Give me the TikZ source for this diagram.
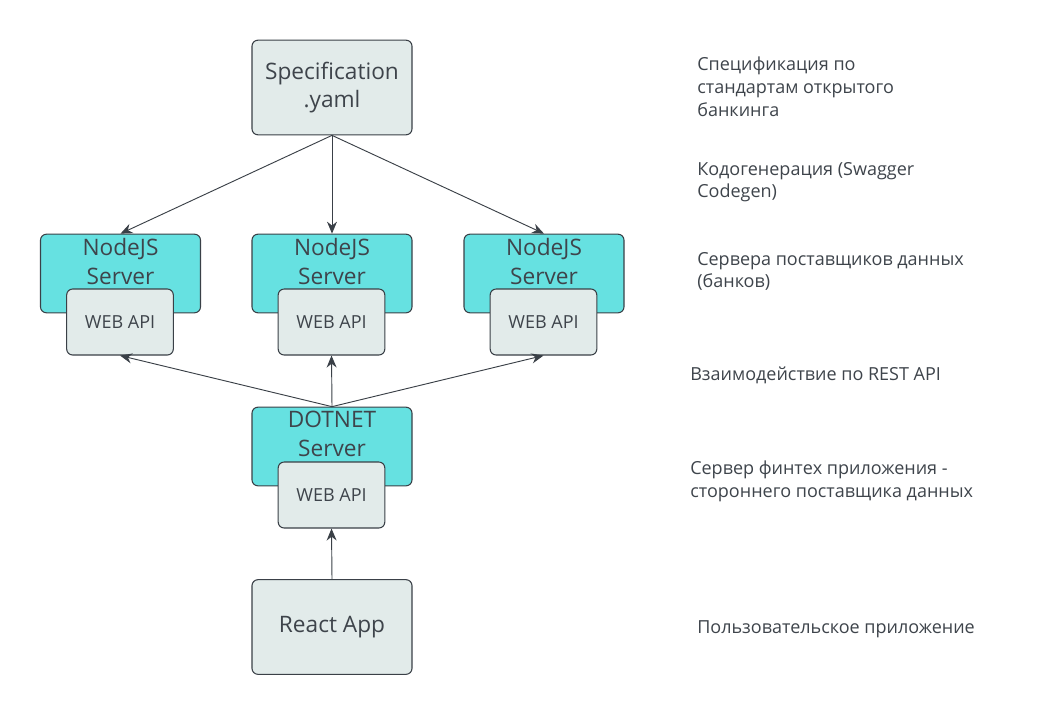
\documentclass[tikz,border=0pt]{standalone}
\usepackage{fontspec}
\setmainfont{Open Sans}
\usetikzlibrary{arrows.meta}
\definecolor{boxgray}{HTML}{E2EBEA}
\definecolor{srvcyan}{HTML}{66E1E1}
\definecolor{edgegray}{HTML}{3A4047}
\definecolor{txtgray}{HTML}{3E444B}
\pgfkeys{tikz/block/.style={draw=edgegray, 
                                fill=boxgray, 
                                rounded corners=4.5pt, 
                                line width=0.8pt, 
                                text=txtgray, 
                                align=center, 
                                font=\fontsize{17}{21}\selectfont}}
\pgfkeys{tikz/server/.style={block, fill=srvcyan, 
                                 minimum width=120pt, 
                                 minimum height=59pt}}
\pgfkeys{tikz/srvtext/.style={block, draw=none, fill=none, 
                                  anchor=north, inner sep=3.2pt, 
                                  font=\fontsize{17}{21.5}\selectfont}}
\pgfkeys{tikz/webapi/.style={block, 
                                 minimum width=80pt, 
                                 minimum height=49.5pt, 
                                 font=\fontsize{13.5}{16}\selectfont}}
\pgfkeys{tikz/note/.style={anchor=north west, 
                               align=left, 
                               inner sep=0pt, 
                               text=txtgray, 
                               font=\fontsize{13.5}{17}\selectfont}}
\pgfkeys{tikz/link/.style={draw=edgegray, line width=0.7pt, 
                               -{Stealth[length=9pt, width=7.5pt]}}}

\begin{document}
\begin{tikzpicture}[x=0.75pt, y=-0.75pt]
                \useasboundingbox (0,0) rectangle (1052,726);

                \node[block, minimum width=120pt, minimum height=71pt] (spec) at (332, 87.5) {Specification\\.yaml};

                \node[server] (s1) at (120.5, 273.5) {};
                \node[server] (s2) at (332, 273.5) {};
                \node[server] (s3) at (544, 273.5) {};
                \node[srvtext] (s1t) at (s1.north) {NodeJS\\Server};
                \node[srvtext] (s2t) at (s2.north) {NodeJS\\Server};
                \node[srvtext] (s3t) at (s3.north) {NodeJS\\Server};

                \node[webapi] (a1) at (120, 322) {WEB API};
                \node[webapi] (a2) at (331.5, 322) {WEB API};
                \node[webapi] (a3) at (543.5, 322) {WEB API};

                \draw[link] (spec.south) -- (s1.north);
                \draw[link] (spec.south) -- (s2.north);
                \draw[link] (spec.south) -- (s3.north);

                \node[server] (dn) at (332, 446.5) {};
                \node[srvtext] (dnt) at (dn.north) {DOTNET\\Server};
                \node[webapi] (a4) at (331.5, 495) {WEB API};

                \draw[link] (dn.north) -- (a1.south);
                \draw[link] (dn.north) -- (a2.south);
                \draw[link] (dn.north) -- (a3.south);

                \node[block, minimum width=120pt, minimum height=71pt] (app) at (332, 627) {React App};

                \draw[link] (app.north) -- (a4.south);

                % notes on the right
                \node[note] (t1) at (697, 57) {Спецификация по\\стандартам открытого\\банкинга};
                \node[note] (t2) at (697, 162) {Кодогенерация (Swagger\\Codegen)};
                \node[note] (t3) at (697, 252) {Сервера поставщиков данных\\(банков)};
                \node[note] (t4) at (690, 367) {Взаимодействие по REST API};
                \node[note] (t5) at (690, 461) {Сервер финтех приложения -\\стороннего поставщика данных};
                \node[note] (t6) at (697, 620) {Пользовательское приложение};
            \end{tikzpicture}
\end{document}
